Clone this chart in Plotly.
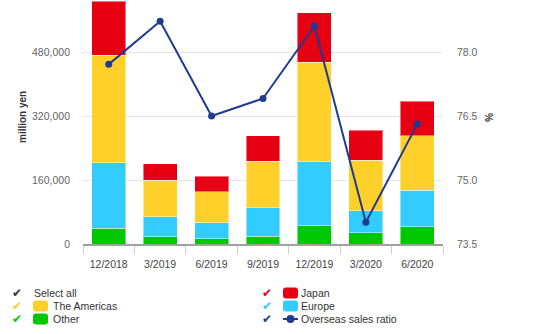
import plotly.graph_objects as go

# Quarterly sales by region (million yen) and overseas sales ratio (%)
quarters = ["12/2018", "3/2019", "6/2019", "9/2019", "12/2019", "3/2020", "6/2020"]
other = [39500, 18000, 13750, 19500, 46000, 28750, 43750]
europe = [163500, 50750, 40000, 71000, 161000, 55000, 90750]
americas = [269000, 90750, 76750, 116500, 247500, 125750, 136500]
japan = [135000, 41000, 39000, 64000, 123500, 75000, 86000]
overseas_ratio = [77.71, 78.72, 76.50, 76.91, 78.61, 74.01, 76.31]

left_ticks = [0, 160000, 320000, 480000]
right_ticks = [73.5, 75.0, 76.5, 78.0]

COL_JAPAN = "#e60012"
COL_AMERICAS = "#ffd02a"
COL_EUROPE = "#33ccff"
COL_OTHER = "#00c800"
COL_RATIO = "#1d3c91"

W, H = 554, 334
ML, MR, MT, MB = 83, 111, 0, 90
PW, PH = W - ML - MR, H - MT - MB


def px(x):
    return (x - ML) / PW


def py(y):
    return (H - MB - y) / PH


fig = go.Figure()
edge = dict(color="rgba(255,255,255,0.45)", width=1)
for name, vals, col in [("Other", other, COL_OTHER), ("Europe", europe, COL_EUROPE),
                        ("The Americas", americas, COL_AMERICAS), ("Japan", japan, COL_JAPAN)]:
    fig.add_trace(go.Bar(x=quarters, y=vals, name=name, marker=dict(color=col, line=edge),
                         showlegend=False))

fig.add_trace(go.Scatter(x=quarters, y=overseas_ratio, name="Overseas sales ratio", yaxis="y2",
                         mode="lines+markers", line=dict(color=COL_RATIO, width=2),
                         marker=dict(color=COL_RATIO, size=7), showlegend=False))

font_family = "Liberation Sans, Arial, sans-serif"
fig.update_layout(
    width=W, height=H,
    margin=dict(l=ML, r=MR, t=MT, b=MB),
    paper_bgcolor="white", plot_bgcolor="white",
    barmode="stack", bargap=0.34,
    font=dict(family=font_family, size=10.5, color="#555"),
    xaxis=dict(showline=True, linecolor="#a0a0a0", linewidth=2, ticks="outside",
               tickson="boundaries", ticklen=8, tickcolor="#d0d0d0", tickwidth=1,
               ticklabelstandoff=9,
               showgrid=False, tickfont=dict(size=10.5, color="#444"), automargin=False),
    yaxis=dict(range=[0, PH / 0.0004], tickvals=left_ticks,
               ticktext=[f"{v:,}" for v in left_ticks], showgrid=True, gridcolor="#e3e3e3",
               gridwidth=1, zeroline=False, showline=False, ticks="", ticklabelstandoff=12,
               tickfont=dict(size=10.5, color="#666"), automargin=False),
    yaxis2=dict(overlaying="y", side="right", range=[73.5, 73.5 + PH * 1.5 / 64],
                tickvals=right_ticks, ticktext=[f"{v:.1f}" for v in right_ticks],
                showgrid=False, zeroline=False, showline=False, ticks="",
                ticklabelstandoff=13, tickfont=dict(size=10.5, color="#666"), automargin=False),
)

annotations = [
    dict(x=px(22), y=py(117), text="<b>million yen</b>", textangle=-90, showarrow=False,
         xref="paper", yref="paper", xanchor="center", yanchor="middle",
         font=dict(size=10, color="#333")),
    dict(x=px(489), y=py(117), text="<b>%</b>", textangle=90, showarrow=False,
         xref="paper", yref="paper", xanchor="center", yanchor="middle",
         font=dict(size=10, color="#333")),
]
shapes = []

# Legend with check marks
rows = [293, 306, 319]
items = [
    (17, rows[0], "#333333", None, "Select all", 32),
    (17, rows[1], COL_AMERICAS, "box", "The Americas", 51),
    (17, rows[2], COL_OTHER, "box", "Other", 51),
    (267, rows[0], COL_JAPAN, "box", "Japan", 299),
    (267, rows[1], COL_EUROPE, "box", "Europe", 299),
    (267, rows[2], COL_RATIO, "line", "Overseas sales ratio", 299),
]
for cx, cy, col, kind, label, tx in items:
    annotations.append(dict(x=px(cx), y=py(cy), text="<b>✔</b>", showarrow=False, xref="paper",
                            yref="paper", xanchor="center", yanchor="middle",
                            font=dict(size=12, color=col, family="DejaVu Sans")))
    annotations.append(dict(x=px(tx), y=py(cy), text=label, showarrow=False, xref="paper",
                            yref="paper", xanchor="left", yanchor="middle",
                            font=dict(size=10.5, color="#333")))
    sx0 = cx + 16
    sx1 = sx0 + 15
    if kind == "box":
        y0, y1 = cy - 5.5, cy + 5.5
        r = 3
        x0p, x1p = px(sx0), px(sx1)
        rx, ry = r / PW, r / PH
        top, bot = py(y0), py(y1)
        path = (f"M {x0p + rx},{top} L {x1p - rx},{top} Q {x1p},{top} {x1p},{top - ry} "
                f"L {x1p},{bot + ry} Q {x1p},{bot} {x1p - rx},{bot} L {x0p + rx},{bot} "
                f"Q {x0p},{bot} {x0p},{bot + ry} L {x0p},{top - ry} Q {x0p},{top} {x0p + rx},{top} Z")
        shapes.append(dict(type="path", path=path, xref="paper", yref="paper",
                           fillcolor=col, line=dict(width=0)))
    elif kind == "line":
        shapes.append(dict(type="line", x0=px(sx0), x1=px(sx1), y0=py(cy), y1=py(cy),
                           xref="paper", yref="paper", line=dict(color=col, width=2)))
        mid = (sx0 + sx1) / 2
        shapes.append(dict(type="circle", x0=px(mid - 4), x1=px(mid + 4), y0=py(cy - 4),
                           y1=py(cy + 4), xref="paper", yref="paper", fillcolor=col,
                           line=dict(width=0)))

fig.update_layout(annotations=annotations, shapes=shapes)
fig.write_html("out.html")
